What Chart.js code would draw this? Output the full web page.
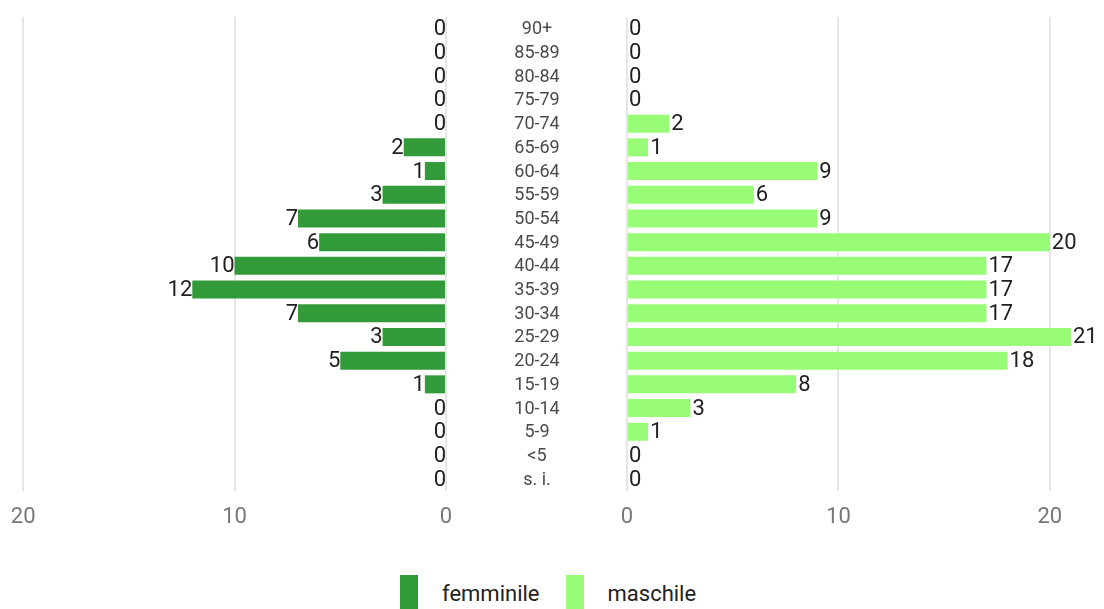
<!DOCTYPE html>
<html>
<head>
<meta charset="utf-8">
<script src="https://cdn.jsdelivr.net/npm/chart.js@4"></script>
<style>
  body { margin: 0; background: #fff; font-family: Roboto, sans-serif; }
  #wrap { position: relative; width: 1104px; height: 609px; overflow: hidden; }
  #leftBox { position: absolute; left: 0; top: 0; width: 452px; height: 540px; }
  #rightBox { position: absolute; left: 446px; top: 0; width: 658px; height: 540px; }
  #legend { position: absolute; left: 400px; top: 575px; display: flex; align-items: flex-start; }
  .item { display: flex; align-items: flex-start; margin-right: 26px; }
  .box { width: 18px; height: 40px; margin-right: 24px; }
  .txt { font-size: 22px; color: #222; line-height: 37px; }
</style>
</head>
<body>
<div id="wrap">
  <div id="leftBox"><canvas id="leftChart"></canvas></div>
  <div id="rightBox"><canvas id="rightChart"></canvas></div>
  <div id="legend"></div>
</div>
<script>
const ageGroups = ["90+", "85-89", "80-84", "75-79", "70-74", "65-69", "60-64", "55-59", "50-54", "45-49",
    "40-44", "35-39", "30-34", "25-29", "20-24", "15-19", "10-14", "5-9", "<5", "s. i."];
const femminile = [0, 0, 0, 0, 0, 2, 1, 3, 7, 6, 10, 12, 7, 3, 5, 1, 0, 0, 0, 0];
const maschile = [0, 0, 0, 0, 2, 1, 9, 6, 9, 20, 17, 17, 17, 21, 18, 8, 3, 1, 0, 0];
const tickValues = [0, 10, 20];
const axisMax = 21;
const colF = '#339a3a';
const colM = '#98fc76';

document.addEventListener("DOMContentLoaded", () => {
    // numbers at the end of each bar
    const valueLabels = {
        id: 'valueLabels',
        afterDatasetsDraw(chart, args, opts) {
            const ctx = chart.ctx;
            const meta = chart.getDatasetMeta(0);
            const data = chart.data.datasets[0].data;
            ctx.save();
            ctx.font = '22px Roboto';
            ctx.fillStyle = '#222';
            ctx.textBaseline = 'middle';
            ctx.textAlign = opts.side === 'left' ? 'right' : 'left';
            meta.data.forEach((bar, i) => {
                const x = opts.side === 'left' ? bar.x : bar.x + 2;
                ctx.fillText(String(data[i]), x, bar.y + 1);
            });
            ctx.restore();
        }
    };

    // age group names in the gap between the two halves
    const middleLabels = {
        id: 'middleLabels',
        afterDraw(chart) {
            const ctx = chart.ctx;
            const yScale = chart.scales.y;
            ctx.save();
            ctx.font = '18px Roboto';
            ctx.fillStyle = '#4a4a4a';
            ctx.textAlign = 'center';
            ctx.textBaseline = 'middle';
            chart.data.labels.forEach((lab, i) => {
                ctx.fillText(lab, chart.chartArea.left - 90, yScale.getPixelForValue(i) + 1);
            });
            ctx.restore();
        }
    };

    const xAxis = (reverse) => ({
        type: 'linear',
        reverse: reverse,
        min: 0,
        max: axisMax,
        afterBuildTicks: (axis) => { axis.ticks = tickValues.map(v => ({ value: v })); },
        afterFit: (axis) => { axis.height = 40; },
        border: { display: false },
        grid: { color: '#e6e6e6', lineWidth: 2, drawTicks: true, tickLength: 13, tickColor: 'rgba(0,0,0,0)' },
        ticks: { padding: 0, color: '#777', font: { size: 22, family: 'Roboto' } }
    });

    const common = {
        indexAxis: 'y',
        responsive: true,
        maintainAspectRatio: false,
        animation: false,
        plugins: { legend: { display: false }, tooltip: { enabled: false } }
    };

    new Chart(document.getElementById("leftChart"), {
        type: 'bar',
        data: {
            labels: ageGroups,
            datasets: [{ label: 'femminile', data: femminile, backgroundColor: colF,
                categoryPercentage: 0.8, barPercentage: 0.95 }]
        },
        options: {
            ...common,
            layout: { padding: { left: 2, right: 6, top: 17, bottom: 9 } },
            plugins: { ...common.plugins, valueLabels: { side: 'left' } },
            scales: {
                x: xAxis(true),
                y: { display: false }
            }
        },
        plugins: [valueLabels]
    });

    new Chart(document.getElementById("rightChart"), {
        type: 'bar',
        data: {
            labels: ageGroups,
            datasets: [{ label: 'maschile', data: maschile, backgroundColor: colM,
                categoryPercentage: 0.8, barPercentage: 0.95 }]
        },
        options: {
            ...common,
            layout: { padding: { left: 0, right: 33, top: 17, bottom: 9 } },
            plugins: { ...common.plugins, valueLabels: { side: 'right' } },
            scales: {
                x: xAxis(false),
                y: {
                    afterFit: (axis) => { axis.width = 181; },
                    border: { display: false },
                    grid: { display: false },
                    ticks: { display: false }
                }
            }
        },
        plugins: [valueLabels, middleLabels]
    });

    const legend = document.getElementById("legend");
    [['femminile', colF], ['maschile', colM]].forEach(([name, col]) => {
        const item = document.createElement('div');
        item.className = 'item';
        item.innerHTML = '<div class="box" style="background:' + col + '"></div><div class="txt">' + name + '</div>';
        legend.appendChild(item);
    });
});
</script>
</body>
</html>
